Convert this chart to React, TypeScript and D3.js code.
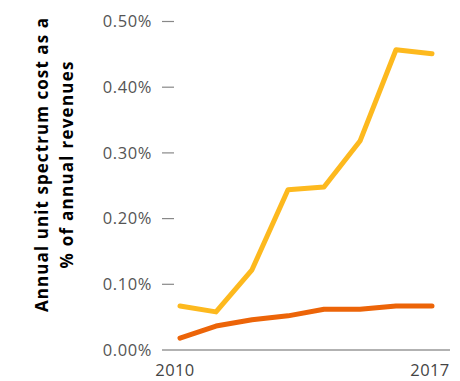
import React from "react";
import * as d3 from "d3";

const years = [2010, 2011, 2012, 2013, 2014, 2015, 2016, 2017];
const seriesA = [0.067, 0.058, 0.122, 0.244, 0.248, 0.318, 0.457, 0.451];
const seriesB = [0.018, 0.0365, 0.046, 0.052, 0.062, 0.062, 0.067, 0.067];
const yTicks = [0, 0.1, 0.2, 0.3, 0.4, 0.5];
const xTickLabels = ["2010", "2017"];
const titleLines = ["Annual unit spectrum cost as a", "% of annual revenues"];

const W = 460;
const H = 381;

export default function App() {
  const x = d3.scaleLinear().domain([2010, 2017]).range([180, 432]);
  const y = d3.scaleLinear().domain([0, 0.5]).range([350, 21.5]);
  const line = d3
    .line<number>()
    .x((_, i) => x(years[i]))
    .y((d) => y(d));
  const font = "'Open Sans', 'Noto Sans', sans-serif";
  return (
    <svg
      width={W}
      height={H}
      style={{ position: "absolute", left: 0, top: 0 }}
      fontFamily={font}
    >
      <rect width={W} height={H} fill="#fff" />
      {yTicks.map((t) => (
        <g key={t}>
          <text
            x={152}
            y={y(t)}
            dy="0.35em"
            textAnchor="end"
            fontSize={16.5}
            letterSpacing={0.6}
            fill="#555"
          >
            {d3.format(".2%")(t / 100)}
          </text>
          {t > 0 && (
            <line x1={162} x2={174} y1={y(t)} y2={y(t)} stroke="#888" strokeWidth={1.2} />
          )}
        </g>
      ))}
      <line x1={162} x2={450} y1={y(0)} y2={y(0)} stroke="#999" strokeWidth={1.6} />
      <text x={175} y={376} textAnchor="middle" fontSize={16.5} letterSpacing={0.4} fill="#444">
        {xTickLabels[0]}
      </text>
      <text x={430} y={376} textAnchor="middle" fontSize={16.5} letterSpacing={0.4} fill="#444">
        {xTickLabels[1]}
      </text>
      <path d={line(seriesA) || ""} fill="none" stroke="#FDB91E" strokeWidth={5} strokeLinejoin="round" strokeLinecap="round" />
      <path d={line(seriesB) || ""} fill="none" stroke="#EC6408" strokeWidth={5} strokeLinejoin="round" strokeLinecap="round" />
      <g transform="translate(0,165) rotate(-90)">
        <text x={0} y={48} textAnchor="middle" fontSize={17} fontWeight="bold" fill="#000" textLength={294} lengthAdjust="spacing">
          {titleLines[0]}
        </text>
        <text x={0} y={73} textAnchor="middle" fontSize={17} fontWeight="bold" fill="#000" textLength={207} lengthAdjust="spacing">
          {titleLines[1]}
        </text>
      </g>
    </svg>
  );
}
